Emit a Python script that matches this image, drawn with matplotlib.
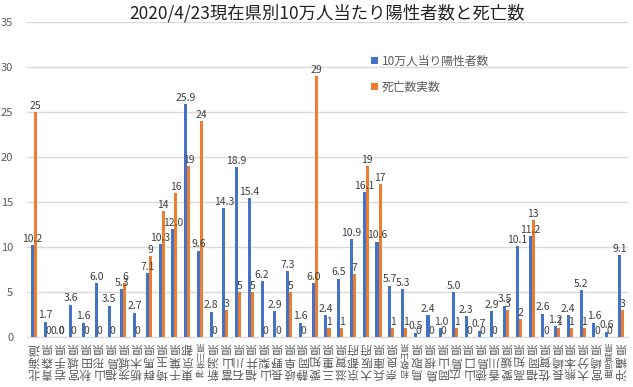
import matplotlib
matplotlib.use("Agg")
import matplotlib.pyplot as plt
import numpy as np

plt.rcParams['font.family'] = ['Noto Sans CJK JP', 'DejaVu Sans']

# データ
prefectures = ['北海道', '青森県', '岩手県', '宮城県', '秋田県', '山形県', '福島県', '茨城県',
               '栃木県', '群馬県', '埼玉県', '千葉県', '東京都', '神奈川県', '新潟県', '富山県',
               '石川県', '福井県', '山梨県', '長野県', '岐阜県', '静岡県', '愛知県', '三重県',
               '滋賀県', '京都府', '大阪府', '兵庫県', '奈良県', '和歌山県', '鳥取県', '島根県',
               '岡山県', '広島県', '山口県', '徳島県', '香川県', '愛媛県', '高知県', '福岡県',
               '佐賀県', '長崎県', '熊本県', '大分県', '宮崎県', '鹿児島県', '沖縄県']
positive_per_100k = [10.2, 1.7, 0.0, 3.6, 1.6, 6.0, 3.5, 5.3, 2.7, 7.1, 10.3, 12.0, 25.9, 9.6,
                     2.8, 14.3, 18.9, 15.4, 6.2, 2.9, 7.3, 1.6, 6.0, 2.4, 6.5, 10.9, 16.1, 10.6,
                     5.7, 5.3, 0.5, 2.4, 1.0, 5.0, 2.3, 0.7, 2.9, 3.5, 10.1, 11.2, 2.6, 1.2,
                     2.4, 5.2, 1.6, 0.6, 9.1]
deaths = [25, 0, 0, 0, 0, 0, 0, 6, 0, 9, 14, 16, 19, 24, 0, 3, 5, 5, 0, 0, 5, 0, 29, 1,
          1, 7, 19, 17, 1, 1, 0, 0, 0, 1, 0, 0, 0, 3, 2, 13, 0, 1, 1, 1, 0, 0, 3]

blue = '#4472C4'
orange = '#ED7D31'
text_color = '#595959'

fig = plt.figure(figsize=(6.33, 3.87), dpi=100)
ax = fig.add_axes([0.0427, 0.1292, 0.9493, 0.8138])

x = np.arange(len(prefectures))
w = 0.24
b1 = ax.bar(x - w / 2, positive_per_100k, w, color=blue, label='10万人当り陽性者数', zorder=3)
b2 = ax.bar(x + w / 2, deaths, w, color=orange, label='死亡数実数', zorder=3)

ax.bar_label(b1, labels=[f'{v:.1f}' for v in positive_per_100k], padding=1,
             fontsize=7.5, color='#404040')
ax.bar_label(b2, labels=[f'{v}' for v in deaths], padding=1,
             fontsize=7.5, color='#404040')

ax.set_ylim(0, 35)
ax.set_yticks(range(0, 36, 5))
ax.set_xlim(-0.55, len(prefectures) - 0.45)
ax.grid(axis='y', color='#D9D9D9', linewidth=1, zorder=0)
for s in ['top', 'right', 'left']:
    ax.spines[s].set_visible(False)
ax.spines['bottom'].set_color('#D9D9D9')
ax.tick_params(axis='both', length=0, colors=text_color, labelsize=8)
ax.tick_params(axis='y', pad=10)

# 縦書きラベル (180度回転)
ax.set_xticks(x)
ax.set_xticklabels(['\n'.join(p) for p in prefectures], rotation=180,
                   fontsize=8.5, linespacing=0.95, color=text_color)
for lbl, p in zip(ax.get_xticklabels(), prefectures):
    if len(p) > 3:
        lbl.set_fontsize(6.3)
ax.tick_params(axis='x', pad=3)

ax.set_title('2020/4/23現在県別10万人当たり陽性者数と死亡数', fontsize=12.5,
             color='#222222', pad=-3)

ax.legend(loc='upper left', bbox_to_anchor=(0.555, 0.93), frameon=False,
          handlelength=0.6, handleheight=0.6, handletextpad=0.3, labelspacing=1.1,
          fontsize=8.5, labelcolor=text_color)

fig.savefig('out.png', dpi=100)
